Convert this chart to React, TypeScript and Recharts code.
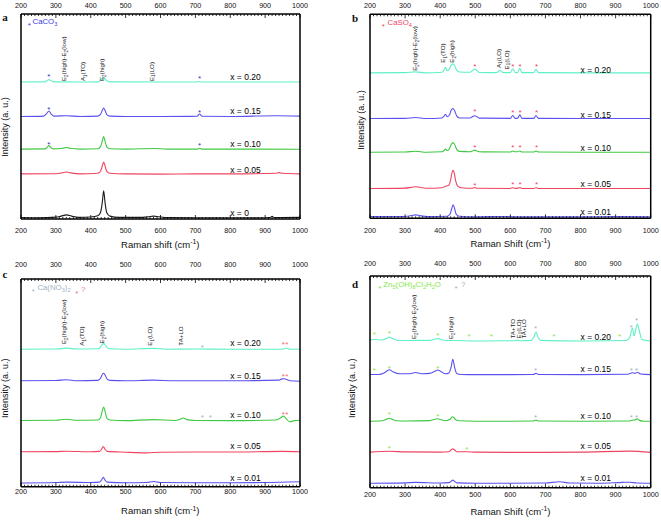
import React from "react";
import { ComposedChart, Line, Scatter, XAxis, YAxis } from "recharts";

type Pt = [number, number];
type Note = { x: number; y: number; text: string };

// shared axis values
const majorTicks = [200, 300, 400, 500, 600, 700, 800, 900, 1000];
const allTicks = Array.from({ length: 81 }, (_, i) => 200 + i * 10);

// ---------- panel a : CaCO3 ----------
const aX0: Pt[] = [[200,0.7],[250,0.6],[300,0.9],[315,1.4],[330,2.0],[345,1.4],[365,0.8],[400,1.0],[420,1.6],[428,3.2],[433,8.0],[437,13.7],[441,8.0],[446,3.0],[455,1.4],[480,0.8],[540,0.8],[565,1.1],[580,1.4],[595,1.1],[620,0.7],[700,0.6],[800,0.6],[880,0.6],[915,0.7],[920,1.3],[925,0.7],[1000,0.8]];
const aX005: Pt[] = [[200,22.0],[300,22.1],[318,22.5],[330,22.9],[342,22.5],[370,22.0],[420,22.3],[428,23.3],[433,25.8],[437,27.8],[441,25.8],[446,23.2],[455,22.3],[500,22.0],[600,21.9],[700,22.0],[800,22.0],[930,22.3],[940,22.6],[950,22.3],[1000,22.0]];
const aX010: Pt[] = [[200,34.1],[268,34.2],[275,34.9],[280,35.8],[285,34.9],[292,34.2],[320,34.5],[330,34.9],[340,34.5],[370,34.1],[420,34.3],[428,35.3],[433,38.0],[437,40.2],[441,38.0],[446,35.2],[455,34.3],[500,34.1],[580,34.4],[620,34.1],[705,34.1],[712,34.5],[719,34.1],[800,34.1],[1000,34.0]];
const aX015: Pt[] = [[200,50.0],[265,50.2],[273,51.3],[280,52.7],[286,51.3],[294,50.2],[330,50.4],[370,50.0],[420,50.2],[428,51.0],[433,53.0],[437,54.1],[441,53.0],[446,50.9],[455,50.2],[500,50.0],[600,50.0],[705,50.1],[712,51.2],[719,50.1],[800,50.0],[930,50.4],[1000,50.2]];
const aX020: Pt[] = [[200,66.8],[268,66.9],[275,67.6],[280,68.0],[286,67.5],[294,66.9],[370,66.8],[420,66.9],[428,67.6],[433,68.6],[437,69.0],[441,68.5],[446,67.4],[455,66.9],[600,66.8],[705,66.8],[712,67.1],[719,66.8],[800,66.8],[1000,66.8]];
const aStars: Pt[] = [[280,70.1],[712,69.3],[280,54.0],[712,52.8],[280,36.9],[712,36.6]];
const aSamples: Note[] = [
  { x: 800, y: 69.1, text: "x = 0.20" },
  { x: 800, y: 52.8, text: "x = 0.15" },
  { x: 800, y: 36.4, text: "x = 0.10" },
  { x: 800, y: 23.9, text: "x = 0.05" },
  { x: 800, y: 2.8, text: "x = 0" },
];
const aModes: Note[] = [
  { x: 330, y: 67.3, text: "E_{2}(high)-E_{2}(low)" },
  { x: 383, y: 67.3, text: "A_{1}(TO)" },
  { x: 438, y: 67.3, text: "E_{2}(high)" },
  { x: 580, y: 67.3, text: "E_{1}(LO)" },
];

// ---------- panel b : CaSO4 ----------
const bX001: Pt[] = [[200,0.8],[300,0.9],[318,1.3],[330,1.7],[342,1.3],[365,0.8],[420,1.0],[428,2.0],[433,4.8],[437,6.6],[441,4.8],[446,1.9],[455,1.0],[500,0.7],[570,0.9],[620,0.7],[700,0.7],[800,0.7],[900,0.8],[1000,0.7]];
const bX005: Pt[] = [[200,14.6],[300,14.8],[318,15.2],[330,15.5],[342,15.2],[365,14.7],[405,15.0],[415,15.7],[425,16.3],[430,19.0],[434,22.5],[437,23.5],[440,22.3],[444,18.5],[450,15.8],[460,15.0],[490,14.7],[498,15.1],[506,14.7],[600,14.6],[607,15.0],[614,14.6],[627,15.0],[634,14.6],[667,14.6],[673,15.0],[680,14.6],[800,14.6],[1000,14.6]];
const bX010: Pt[] = [[200,32.4],[300,32.5],[330,32.9],[360,32.4],[405,32.6],[410,33.0],[415,33.9],[420,33.2],[426,34.0],[431,36.0],[436,37.1],[441,36.3],[447,33.8],[455,32.8],[485,32.6],[492,33.0],[498,33.4],[505,33.0],[512,32.6],[600,32.5],[607,33.0],[614,32.6],[621,32.6],[627,33.0],[633,32.5],[667,32.5],[673,33.0],[680,32.5],[800,32.4],[1000,32.4]];
const bX015: Pt[] = [[200,48.9],[300,49.0],[330,49.4],[360,48.9],[405,49.2],[410,49.8],[415,51.0],[420,49.8],[426,50.5],[431,52.8],[436,53.8],[441,52.8],[447,50.2],[455,49.2],[485,49.2],[492,49.8],[498,50.3],[505,49.8],[512,49.1],[600,49.0],[607,50.4],[614,49.0],[621,49.1],[627,50.7],[633,49.0],[667,49.0],[673,50.4],[680,49.0],[800,48.9],[1000,48.9]];
const bX020: Pt[] = [[200,71.3],[300,71.4],[330,71.8],[360,71.3],[405,71.6],[410,72.4],[415,74.0],[420,72.4],[426,73.0],[431,75.0],[436,75.7],[441,75.0],[447,72.6],[455,71.7],[485,71.6],[492,72.4],[498,73.2],[505,72.4],[512,71.5],[560,71.4],[565,71.9],[570,72.5],[575,71.9],[580,71.4],[600,71.4],[607,73.2],[614,71.4],[621,71.5],[627,73.5],[633,71.4],[667,71.4],[673,73.1],[680,71.4],[800,71.3],[1000,71.3]];
const bStars: Pt[] = [[499,75.1],[607,75.1],[628,75.1],[675,75.1],[499,53.2],[607,52.6],[628,52.6],[675,52.6],[499,35.4],[607,35.4],[628,35.4],[675,35.4],[499,16.8],[607,17.3],[628,17.3],[675,17.3]];
const bSamples: Note[] = [
  { x: 800, y: 72.8, text: "x = 0.20" },
  { x: 800, y: 50.6, text: "x = 0.15" },
  { x: 800, y: 34.3, text: "x = 0.10" },
  { x: 800, y: 16.7, text: "x = 0.05" },
  { x: 800, y: 2.9, text: "x = 0.01" },
];
const bModes: Note[] = [
  { x: 333, y: 72.3, text: "E_{2}(high)-E_{2}(low)" },
  { x: 414, y: 76.3, text: "E_{1}(TO)" },
  { x: 439, y: 76.3, text: "E_{2}(high)" },
  { x: 572, y: 73.7, text: "A_{1}(LO)" },
  { x: 595, y: 73.0, text: "E_{1}(LO)" },
];

// ---------- panel c : Ca(NO3)2 ----------
const cX001: Pt[] = [[200,1.8],[300,2.0],[330,2.2],[400,2.0],[425,2.2],[431,3.2],[436,4.5],[441,3.2],[447,2.2],[500,1.9],[560,2.0],[580,2.5],[600,2.0],[700,1.9],[800,1.9],[900,2.0],[1000,2.4]];
const cX005: Pt[] = [[200,16.8],[300,16.9],[330,17.1],[400,16.8],[425,17.0],[431,18.0],[436,19.3],[441,18.0],[447,17.0],[500,16.6],[560,16.3],[600,16.6],[700,16.7],[800,16.7],[950,17.0],[1000,16.8]];
const cX010: Pt[] = [[200,31.9],[300,32.0],[330,32.5],[360,32.0],[420,32.1],[428,33.2],[433,36.5],[437,38.4],[441,36.3],[446,33.0],[455,32.1],[500,31.8],[580,32.3],[640,31.9],[655,32.4],[665,33.1],[675,32.3],[700,31.9],[800,31.8],[930,32.1],[945,33.2],[953,34.0],[960,32.8],[970,31.3],[985,31.8],[1000,32.0]];
const cX015: Pt[] = [[200,51.0],[300,51.1],[330,51.5],[360,51.0],[420,51.2],[428,52.2],[433,54.0],[437,54.6],[441,53.8],[447,51.8],[455,51.2],[500,51.0],[580,51.3],[640,51.0],[700,51.0],[800,51.0],[940,51.3],[948,51.9],[955,52.0],[962,51.6],[972,51.0],[1000,50.8]];
const cX020: Pt[] = [[200,66.2],[300,66.3],[330,66.7],[360,66.3],[420,66.4],[428,67.2],[433,68.5],[437,69.0],[441,68.4],[447,67.0],[455,66.4],[500,66.2],[580,66.6],[620,66.2],[700,66.3],[800,66.2],[950,66.2],[962,66.8],[970,66.2],[1000,66.2]];
const cStarsNitrate: Pt[] = [[720,67.9],[720,34.0],[743,34.0]];
const cStarsUnknown: Pt[] = [[952,69.2],[962,69.2],[952,53.6],[962,53.6],[952,35.5],[962,35.5]];
const cSamples: Note[] = [
  { x: 800, y: 69.0, text: "x = 0.20" },
  { x: 800, y: 53.4, text: "x = 0.15" },
  { x: 800, y: 34.4, text: "x = 0.10" },
  { x: 800, y: 19.7, text: "x = 0.05" },
  { x: 800, y: 4.0, text: "x = 0.01" },
];
const cModes: Note[] = [
  { x: 330, y: 68.7, text: "E_{2}(high)-E_{2}(low)" },
  { x: 380, y: 67.9, text: "A_{1}(TO)" },
  { x: 437, y: 69.0, text: "E_{2}(high)" },
  { x: 575, y: 67.9, text: "E_{1}(LO)" },
  { x: 664, y: 67.9, text: "TA+LO" },
];

// ---------- panel d : Zn5(OH)8Cl2H2O ----------
const dX001: Pt[] = [[200,2.1],[300,2.3],[330,2.5],[400,2.2],[425,2.4],[431,3.0],[436,3.6],[441,3.0],[447,2.3],[500,2.1],[600,2.1],[700,2.2],[740,2.8],[770,2.2],[850,2.1],[920,2.5],[940,2.6],[960,2.2],[1000,2.1]];
const dX005: Pt[] = [[200,16.8],[255,17.2],[300,16.9],[400,16.8],[425,17.0],[431,17.8],[436,18.4],[441,17.8],[447,17.0],[476,17.0],[500,16.8],[600,16.7],[700,16.7],[800,16.8],[940,17.3],[1000,16.7]];
const dX010: Pt[] = [[200,31.4],[235,31.6],[248,32.4],[255,32.8],[262,32.4],[275,31.6],[300,31.5],[370,31.7],[385,32.3],[393,32.6],[401,32.2],[415,31.6],[428,32.3],[434,33.5],[438,33.3],[445,32.0],[455,31.6],[500,31.4],[600,31.4],[665,31.5],[673,32.0],[680,31.5],[800,31.4],[940,31.5],[948,31.9],[955,32.0],[961,32.5],[968,31.8],[980,31.4],[1000,31.4]];
const dX015: Pt[] = [[200,53.5],[225,53.5],[240,54.2],[255,55.7],[265,54.8],[285,53.8],[310,53.8],[330,54.4],[350,53.8],[370,54.0],[385,55.0],[393,55.6],[401,55.0],[415,53.8],[425,54.2],[431,56.8],[436,60.7],[441,57.0],[447,54.0],[460,53.5],[500,53.4],[600,53.4],[665,53.5],[673,54.0],[680,53.5],[800,53.4],[935,53.6],[948,54.3],[955,54.0],[962,54.5],[972,53.7],[1000,53.4]];
const dX020: Pt[] = [[200,69.9],[215,70.0],[235,69.8],[248,70.6],[255,71.2],[262,70.6],[280,69.5],[370,69.6],[385,70.2],[393,70.4],[401,70.1],[415,69.5],[437,69.5],[500,69.3],[610,69.4],[620,69.7],[630,69.4],[660,69.6],[667,71.2],[673,73.5],[679,71.0],[687,69.6],[800,69.3],[930,69.5],[940,71.0],[948,75.3],[953,71.7],[957,74.5],[962,77.3],[967,74.5],[975,70.0],[1000,69.3]];
const dStarsZinc: Pt[] = [[212,73.2],[255,73.5],[393,72.6],[482,71.9],[546,71.9],[724,72.0],[911,72.0],[212,56.2],[255,56.9],[393,57.2],[255,35.1],[393,34.5],[255,19.4],[476,18.9]];
const dStarsUnknown: Pt[] = [[672,76.1],[945,76.4],[960,79.5],[672,56.2],[945,56.2],[960,56.2],[672,34.0],[945,34.0],[960,34.0]];
const dSamples: Note[] = [
  { x: 800, y: 71.2, text: "x = 0.20" },
  { x: 800, y: 56.1, text: "x = 0.15" },
  { x: 800, y: 34.0, text: "x = 0.10" },
  { x: 800, y: 19.8, text: "x = 0.05" },
  { x: 800, y: 4.4, text: "x = 0.01" },
];
const dModes: Note[] = [
  { x: 331, y: 70.2, text: "E_{2}(high)-E_{2}(low)" },
  { x: 437, y: 70.2, text: "E_{2}(high)" },
  { x: 613, y: 70.5, text: "TA+TO" },
  { x: 629, y: 70.5, text: "E_{1}(LO)" },
  { x: 646, y: 70.5, text: "TA+LO" },
];

const CYAN = "#5ef0c6";
const BLUE = "#5a52ee";
const GREEN = "#3fc843";
const RED = "#ef4460";
const BLACK = "#1a1a1a";
const GREY = "#9fb2c6";
const LIME = "#86e846";
const FONT = "'Liberation Sans', Arial, sans-serif";

const toObj = (pts: Pt[]) => pts.map(([x, y]) => ({ x, y }));

// simple markup: _{sub} and ^{sup}
const rich = (s: string, fs: number) => {
  const parts = s.split(/(_\{[^}]*\}|\^\{[^}]*\})/).filter(Boolean);
  let shift = 0;
  return parts.map((p, i) => {
    if (p.startsWith("_{")) {
      const d = fs * 0.3 - shift;
      shift = fs * 0.3;
      return <tspan key={i} fontSize={fs * 0.72} dy={d}>{p.slice(2, -1)}</tspan>;
    }
    if (p.startsWith("^{")) {
      const d = -fs * 0.4 - shift;
      shift = -fs * 0.4;
      return <tspan key={i} fontSize={fs * 0.72} dy={d}>{p.slice(2, -1)}</tspan>;
    }
    const d = -shift;
    shift = 0;
    return <tspan key={i} dy={d}>{p}</tspan>;
  });
};

const makeTick = (side: "top" | "bottom", gap: number) => (props: any) => {
  const { x, y, payload } = props;
  const v = payload.value;
  const major = majorTicks.includes(v);
  const dir = side === "bottom" ? -1 : 1;
  return (
    <g>
      <line x1={x} x2={x} y1={y} y2={y + dir * (major ? 4 : 2)} stroke="#000" strokeWidth={0.8} />
      {major && (
        <text x={x} y={side === "bottom" ? y + gap : y - gap} dy="0.35em" textAnchor="middle" fontSize={7.2} fill="#111">
          {v}
        </text>
      )}
    </g>
  );
};

type Legend = { x: number; y: number; text: string; color: string; star: boolean };

type PanelProps = {
  left: number;
  top: number;
  width: number;
  yW: number;
  rW: number;
  topH: number;
  botH: number;
  topGap: number;
  botGap: number;
  series: { pts: Pt[]; color: string }[];
  stars: { pts: Pt[]; color: string }[];
  samples: Note[];
  modes: Note[];
  legend: Legend[];
  xTitle: string;
  xTitlePos: [number, number];
  yTitlePos: [number, number];
  letter: string;
  letterPos: [number, number];
};

const Panel = (p: PanelProps) => {
  const H = 260;
  return (
    <div style={{ position: "absolute", left: p.left, top: p.top }}>
      <ComposedChart width={p.width} height={H} margin={{ top: 0, right: 0, bottom: 0, left: 0 }}>
        <XAxis
          dataKey="x"
          type="number"
          domain={[200, 1000]}
          allowDataOverflow
          ticks={allTicks}
          interval={0}
          height={p.botH}
          tickSize={0}
          tickMargin={0}
          tick={makeTick("bottom", p.botGap)}
          axisLine={{ stroke: "#000", strokeWidth: 1.5 }}
          label={() => (
            <text x={p.xTitlePos[0]} y={p.xTitlePos[1]} dy="0.35em" textAnchor="middle" fontSize={9.5} fill="#111">
              {rich(p.xTitle, 9.5)}
            </text>
          )}
        />
        <XAxis
          xAxisId="top"
          orientation="top"
          dataKey="x"
          type="number"
          domain={[200, 1000]}
          allowDataOverflow
          ticks={allTicks}
          interval={0}
          height={p.topH}
          tickSize={0}
          tickMargin={0}
          tick={makeTick("top", p.topGap)}
          axisLine={{ stroke: "#000", strokeWidth: 1.5 }}
        />
        <YAxis
          dataKey="y"
          type="number"
          domain={[0, 100]}
          allowDataOverflow
          width={p.yW}
          tick={false}
          tickLine={false}
          axisLine={{ stroke: "#000", strokeWidth: 1.5 }}
          label={() => (
            <g>
              <text
                x={p.yTitlePos[0]}
                y={p.yTitlePos[1]}
                dy="0.35em"
                textAnchor="middle"
                fontSize={9}
                fill="#111"
                transform={`rotate(-90 ${p.yTitlePos[0]} ${p.yTitlePos[1]})`}
              >
                Intensity (a. u.)
              </text>
              <text
                x={p.letterPos[0]}
                y={p.letterPos[1]}
                dy="0.35em"
                textAnchor="middle"
                fontSize={11}
                fontWeight="bold"
                fontFamily="'Liberation Serif', 'Times New Roman', serif"
                fill="#111"
              >
                {p.letter}
              </text>
            </g>
          )}
        />
        <YAxis
          yAxisId="right"
          orientation="right"
          type="number"
          domain={[0, 100]}
          width={p.rW}
          tick={false}
          tickLine={false}
          axisLine={{ stroke: "#000", strokeWidth: 1.5 }}
        />
        {p.series.map((s, i) => (
          <Line
            key={`s${i}`}
            data={toObj(s.pts)}
            dataKey="y"
            type="monotone"
            stroke={s.color}
            strokeWidth={1.1}
            dot={false}
            activeDot={false}
            isAnimationActive={false}
          />
        ))}
        {p.stars.map((g, i) => (
          <Scatter
            key={`st${i}`}
            data={toObj(g.pts)}
            dataKey="y"
            isAnimationActive={false}
            shape={(sp: any) => (
              <text x={sp.cx} y={sp.cy + 4} textAnchor="middle" fontSize={8} fill={g.color}>
                *
              </text>
            )}
          />
        ))}
        <Scatter
          data={p.samples}
          dataKey="y"
          isAnimationActive={false}
          shape={(sp: any) => (
            <text x={sp.cx} y={sp.cy} dy="0.35em" fontSize={8.5} fill="#000">
              {sp.payload.text}
            </text>
          )}
        />
        <Scatter
          data={p.modes}
          dataKey="y"
          isAnimationActive={false}
          shape={(sp: any) => (
            <text
              x={sp.cx}
              y={sp.cy}
              dy="0.35em"
              fontSize={6.2}
              fill="#222"
              transform={`rotate(-90 ${sp.cx} ${sp.cy})`}
            >
              {rich(sp.payload.text, 6.2)}
            </text>
          )}
        />
        <Scatter
          data={p.legend}
          dataKey="y"
          isAnimationActive={false}
          shape={(sp: any) =>
            sp.payload.star ? (
              <text x={sp.cx} y={sp.cy + 4} textAnchor="middle" fontSize={8} fill={sp.payload.color}>
                *
              </text>
            ) : (
              <text x={sp.cx} y={sp.cy} dy="0.35em" fontSize={7.8} fill={sp.payload.color}>
                {rich(sp.payload.text, 7.8)}
              </text>
            )
          }
        />
      </ComposedChart>
    </div>
  );
};

export default function App() {
  return (
    <div style={{ position: "absolute", left: 0, top: 0, width: 661, height: 520, background: "#fff", fontFamily: FONT }}>
      <Panel
        left={0}
        top={0}
        width={330}
        yW={21}
        rW={30}
        topH={14}
        botH={41}
        topGap={9}
        botGap={11.7}
        series={[
          { pts: aX0, color: BLACK },
          { pts: aX005, color: RED },
          { pts: aX010, color: GREEN },
          { pts: aX015, color: BLUE },
          { pts: aX020, color: CYAN },
        ]}
        stars={[{ pts: aStars, color: "#3434c4" }]}
        samples={aSamples}
        modes={aModes}
        legend={[
          { x: 224, y: 95.1, text: "*", color: "#3a3ae0", star: true },
          { x: 233, y: 95.1, text: "CaCO_{3}", color: "#3a3ae0", star: false },
        ]}
        xTitle="Raman shift (cm^{-1})"
        xTitlePos={[160.3, 248]}
        yTitlePos={[5, 127]}
        letter="a"
        letterPos={[5, 17]}
      />
      <Panel
        left={330}
        top={0}
        width={331}
        yW={40}
        rW={10.3}
        topH={14.3}
        botH={41.7}
        topGap={9}
        botGap={11.7}
        series={[
          { pts: bX001, color: BLUE },
          { pts: bX005, color: RED },
          { pts: bX010, color: GREEN },
          { pts: bX015, color: BLUE },
          { pts: bX020, color: CYAN },
        ]}
        stars={[{ pts: bStars, color: RED }]}
        samples={bSamples}
        modes={bModes}
        legend={[
          { x: 238, y: 94.8, text: "*", color: RED, star: true },
          { x: 250, y: 94.8, text: "CaSO_{4}", color: RED, star: false },
        ]}
        xTitle="Raman Shift (cm^{-1})"
        xTitlePos={[180.5, 247]}
        yTitlePos={[31, 120]}
        letter="b"
        letterPos={[25, 18]}
      />
      <Panel
        left={0}
        top={260}
        width={330}
        yW={21}
        rW={30}
        topH={19}
        botH={33.3}
        topGap={15}
        botGap={4.5}
        series={[
          { pts: cX001, color: BLUE },
          { pts: cX005, color: RED },
          { pts: cX010, color: GREEN },
          { pts: cX015, color: BLUE },
          { pts: cX020, color: CYAN },
        ]}
        stars={[
          { pts: cStarsNitrate, color: GREY },
          { pts: cStarsUnknown, color: "#f06a72" },
        ]}
        samples={cSamples}
        modes={cModes}
        legend={[
          { x: 235, y: 94.7, text: "*", color: GREY, star: true },
          { x: 247, y: 94.7, text: "Ca(NO_{3})_{2}", color: GREY, star: false },
          { x: 360, y: 93.9, text: "*", color: "#f07a7a", star: true },
          { x: 372, y: 93.9, text: "?", color: "#f07a7a", star: false },
        ]}
        xTitle="Raman shift (cm^{-1})"
        xTitlePos={[160.3, 254.3]}
        yTitlePos={[5, 128.3]}
        letter="c"
        letterPos={[5, 14]}
      />
      <Panel
        left={330}
        top={260}
        width={331}
        yW={40}
        rW={10.3}
        topH={16}
        botH={32.3}
        topGap={12.7}
        botGap={6.6}
        series={[
          { pts: dX001, color: BLUE },
          { pts: dX005, color: RED },
          { pts: dX010, color: GREEN },
          { pts: dX015, color: BLUE },
          { pts: dX020, color: CYAN },
        ]}
        stars={[
          { pts: dStarsZinc, color: LIME },
          { pts: dStarsUnknown, color: GREY },
        ]}
        samples={dSamples}
        modes={dModes}
        legend={[
          { x: 228, y: 94.9, text: "*", color: LIME, star: true },
          { x: 238, y: 94.9, text: "Zn_{5}(OH)_{8}Cl_{2}H_{2}O", color: LIME, star: false },
          { x: 445, y: 94.9, text: "*", color: GREY, star: true },
          { x: 459, y: 94.9, text: "?", color: GREY, star: false },
        ]}
        xTitle="Raman Shift (cm^{-1})"
        xTitlePos={[180.5, 255]}
        yTitlePos={[21.7, 128.3]}
        letter="d"
        letterPos={[25, 24.3]}
      />
    </div>
  );
}
